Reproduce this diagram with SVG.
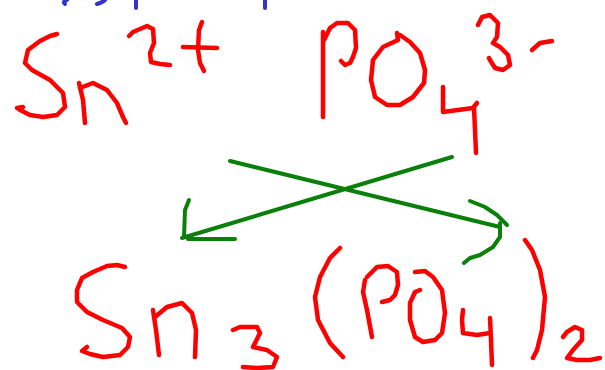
<svg xmlns="http://www.w3.org/2000/svg" width="605" height="370" viewBox="0 0 605 370">
<style>
.r{fill:none;stroke:#ff0000;stroke-width:4.5;stroke-linecap:round;stroke-linejoin:round}
.g{fill:none;stroke:#0a800a;stroke-width:4;stroke-linecap:round;stroke-linejoin:round}
.b{fill:none;stroke:#3333cc;stroke-width:4;stroke-linecap:round;stroke-linejoin:round}
</style>
<rect width="605" height="370" fill="#ffffff"/>
<g id="top-blue">
<path class="b" d="M67,0 Q62,2 65,4"/>
<path class="b" d="M97,4 Q103,2 105,0"/>
<path class="b" d="M136,0 L136,8"/>
<path class="b" d="M265,0 L265,8"/>
</g>
<g id="reactant-sn">
<path class="r" d="M57,34 L50,36 L40,41 L28,50 L25,63 L32,70 L50,80 L63,93 L65,107 L57,115 L43,117 L30,115 L20,110 L17,108 L23,107"/>
<path class="r" d="M79,83 L83,100 L85,123"/>
<path class="r" d="M80,88 L93,83 L107,90 L117,103 L123,117 L126,123"/>
<path class="r" d="M129,36 L133,32 L147,26 L153,29 L154,43 L150,53 L151,62 L160,64 L170,65"/>
<path class="r" d="M183,47 L217,48"/>
<path class="r" d="M202,22 L199,30 L198,50 L200,63 L204,71"/>
</g>
<g id="reactant-po4">
<path class="r" d="M323,32 L323,117"/>
<path class="r" d="M324,40 L330,28 L337,23 L348,23 L355,30 L356,48 L353,57 L350,63 L345,65 L341,61"/>
<path class="r" d="M397,33 L398,40 L383,47 L373,60 L371,80 L375,97 L387,105 L400,105 L413,97 L424,83 L425,70 L420,53 L410,42 L400,35"/>
<path class="r" d="M443,87 L443,112 L473,108 L477,103"/>
<path class="r" d="M474,108 L475,130 L476,153"/>
<path class="r" d="M478,25 L482,17 L490,15 L498,23 L497,37 L493,43 L500,47 L508,55 L510,65 L503,70 L495,68 L490,60 L489,58"/>
<path class="r" d="M532,50 L540,43 L552,41"/>
</g>
<g id="connectors">
<path class="g" d="M230,161 L500,227"/>
<path class="g" d="M452,157 L182,238"/>
<path class="g" d="M189,200 L185,210 L184,237"/>
<path class="g" d="M188,239 L235,239"/>
<path class="g" d="M470,201 L485,207 L497,215 L507,225"/>
<path class="g" d="M500,223 L500,237 L493,247 L480,255 L470,258 L464,263"/>
</g>
<g id="product">
<path class="r" d="M125,267 L117,265 L107,266 L93,272 L82,278 L77,290 L77,302 L87,312 L103,320 L122,328 L130,337 L128,347 L120,355 L103,357 L90,354 L82,351 L87,347"/>
<path class="r" d="M153,310 L156,330 L159,355"/>
<path class="r" d="M155,317 L167,307 L182,303 L192,313 L196,330 L195,357"/>
<path class="r" d="M233,330 L240,327 L257,327 L260,333 L253,347 L267,350 L277,357 L273,367 L257,368 L243,367"/>
<path class="r" d="M340,248 L330,258 L320,277 L315,297 L318,320 L330,343 L343,357"/>
<path class="r" d="M365,280 L363,292 L367,310 L372,337"/>
<path class="r" d="M367,277 L377,267 L388,266 L397,272 L398,285 L395,295 L390,300 L382,302"/>
<path class="r" d="M415,272 L425,271 L433,277 L442,290 L445,313 L442,333 L435,340 L423,342 L415,337 L410,320 L410,303 L415,292 L420,290"/>
<path class="r" d="M463,310 L462,320 L463,333 L477,335 L490,333"/>
<path class="r" d="M490,318 L491,340 L492,365"/>
<path class="r" d="M525,240 L532,250 L540,270 L545,297 L542,330 L537,350 L533,358"/>
<path class="r" d="M563,337 L567,332 L575,327 L582,330 L582,340 L573,350 L567,358 L577,360 L590,360 L600,358"/>
</g>
</svg>
